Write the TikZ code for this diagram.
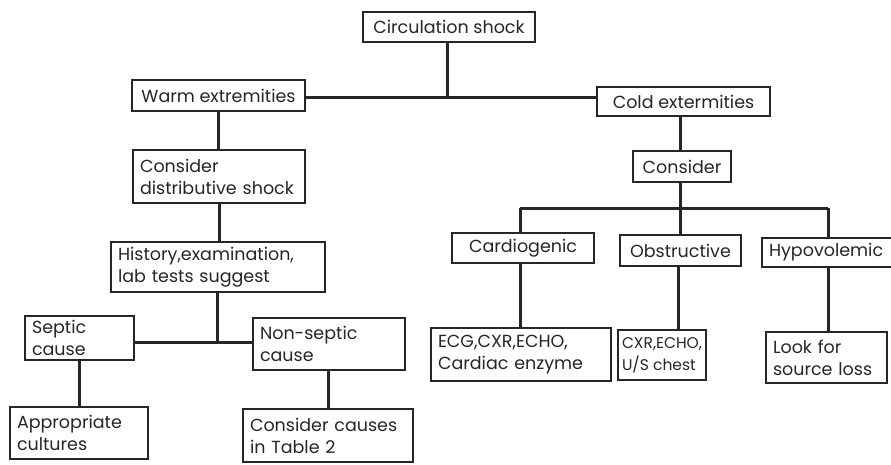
\documentclass[tikz,border=0pt]{standalone}
\usepackage{fontspec}
\setmainfont{Poppins}
\definecolor{ink}{HTML}{262626}
\tikzset{
  box/.style={draw=ink, text=ink, line width=1.4pt, inner xsep=7pt, inner ysep=0pt,
    font=\fontsize{17.5}{22}\selectfont, align=center},
  multi/.style={align=left},
  link/.style={draw=ink, line width=3pt}
}
\begin{document}
\begin{tikzpicture}[x=1pt,y=-1pt]
\useasboundingbox[fill=white] (0,0) rectangle (891,464);
% nodes
\node[box, minimum width=172pt, minimum height=30pt] (circ) at (449,27) {Circulation shock};
\node[box, minimum width=173pt, minimum height=31pt] (warm) at (218.5,95.5) {Warm extremities};
\node[box, minimum width=173pt, minimum height=29pt] (cold) at (683.5,101.5) {Cold extermities};
\node[box, multi, text width=158pt, minimum height=53pt] (dist) at (219,176.5) {Consider\\distributive shock};
\node[box, multi, text width=200pt, minimum height=50pt] (hist) at (218,267) {History,examination,\\lab tests suggest};
\node[box, multi, text width=95pt, minimum height=44pt] (septic) at (79.5,338) {Septic\\cause};
\node[box, multi, text width=138pt, minimum height=52pt] (nonsep) at (329,344) {Non-septic\\cause};
\node[box, multi, text width=124pt, minimum height=52pt] (appr) at (79,433) {Appropriate\\cultures};
\node[box, multi, text width=156pt, minimum height=53pt] (tab) at (328,435.5) {Consider causes\\in Table 2};
\node[box, minimum width=98pt, minimum height=31pt] (cons) at (682,166.5) {Consider};
\node[box, minimum width=142pt, minimum height=30pt] (cardio) at (523,248) {Cardiogenic};
\node[box, minimum width=121pt, minimum height=31pt] (obstr) at (680.5,250.5) {Obstructive};
\node[box, multi, text width=124pt, minimum height=29pt] (hypo) at (831,252.5) {Hypovolemic};
\node[box, multi, text width=166pt, minimum height=53pt] (ecg) at (521,354.5) {ECG,CXR,ECHO,\\Cardiac enzyme};
\node[box, multi, inner xsep=2pt, minimum width=88pt, minimum height=50pt,
  font=\fontsize{15.5}{22}\selectfont] (cxr) at (662,355) {CXR,ECHO,\\U/S chest};
\node[box, multi, text width=107pt, minimum height=51pt] (look) at (826.5,357.5) {Look for\\source loss};
% junctions
\coordinate (j1) at (447,97);
\coordinate (j2) at (217,342);
\coordinate (b1) at (520,208);
\coordinate (b2) at (680,208);
\coordinate (b3) at (828,208);
% connectors
\draw[link] (warm.east |- j1) -- (cold.west |- j1);
\draw[link] (circ.south -| j1) -- (j1);
\draw[link] (warm.south) -- (warm.south |- dist.north);
\draw[link] (dist.south) -- (dist.south |- hist.north);
\draw[link] (hist.south -| j2) -- (j2);
\draw[link] (septic.east |- j2) -- (nonsep.west |- j2);
\draw[link] (septic.south) -- (septic.south |- appr.north);
\draw[link] (nonsep.south -| tab.north) -- (tab.north);
\draw[link] (cold.south -| b2) -- (cons.north -| b2);
\draw[link] (cons.south -| b2) -- (b2);
\draw[link] (b1) -- (b3);
\draw[link] (b1) -- (b1 |- cardio.north);
\draw[link] (b2) -- (b2 |- obstr.north);
\draw[link] (b3) -- (b3 |- hypo.north);
\draw[link] (b1 |- cardio.south) -- (b1 |- ecg.north);
\draw[link] (obstr.south -| 678,0) -- (cxr.north -| 678,0);
\draw[link] (b3 |- hypo.south) -- (b3 |- look.north);
\end{tikzpicture}
\end{document}
